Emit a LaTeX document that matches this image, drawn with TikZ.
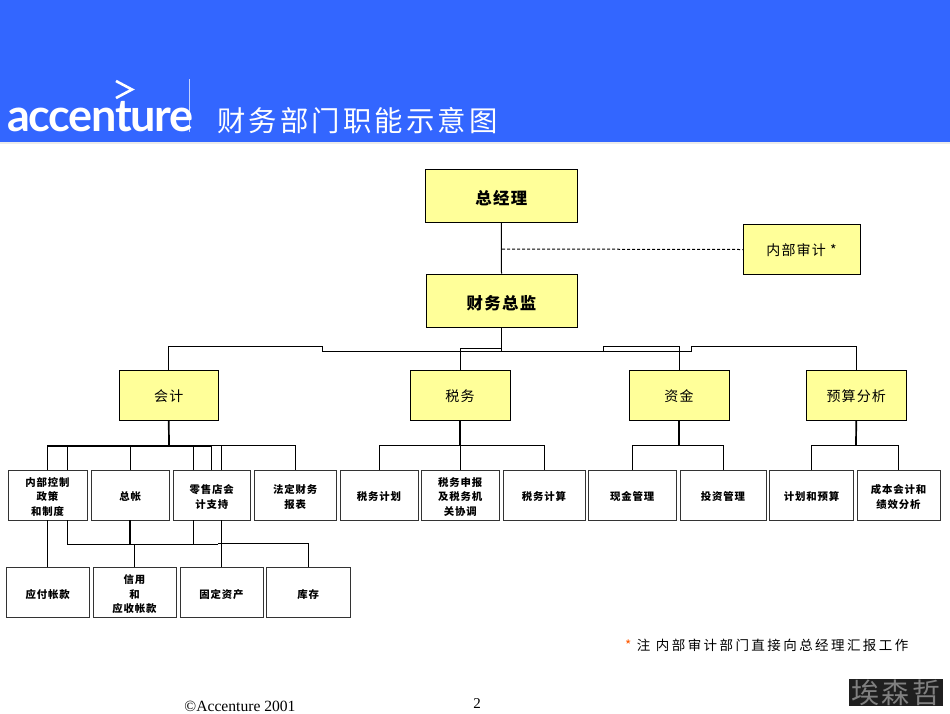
\documentclass[tikz,border=0pt]{standalone}
\usepackage{fontspec}
\setmainfont{Liberation Serif}
\newfontfamily\cjk{Noto Sans CJK SC}[LetterSpace=8]
\newfontfamily\cjktitle{Noto Sans CJK SC}[LetterSpace=11]
\newfontfamily\cjknote{Noto Sans CJK SC}[LetterSpace=18]
\newfontfamily\logofont{Lato}
\definecolor{hdr}{HTML}{3366FF}
\definecolor{boxy}{HTML}{FFFF99}
\tikzset{
  x=1pt,y=-1pt,
  box/.style={draw=black,line width=0.9pt,inner sep=0pt,align=center,font=\cjk},
  topbox/.style={box,fill=boxy,font=\cjk\fontsize{16.4}{18}\selectfont\bfseries,execute at begin node=\def\rz{-8.5pt}},
  midbox/.style={box,fill=boxy,font=\cjk\fontsize{14}{16}\selectfont,execute at begin node=\def\rz{-6.5pt}},
  leaf/.style={box,fill=white,draw=black!80,line width=1pt,minimum height=50pt,font=\cjk\fontsize{10.4}{14.5}\selectfont\bfseries,execute at begin node=\def\rz{-5.5pt}},
  link/.style={draw=black,line width=1pt,line join=miter},
  heavy/.style={draw=black,line width=1.7pt},
}
\newcommand{\bx}[7]{\node[#1,minimum width=#5pt-#4pt,minimum height=#7pt-#6pt] (#2) at ({(#4+#5)/2},{(#6+#7)/2}) {\raisebox{\rz}[0pt][0pt]{\begin{tabular}{@{}c@{}}#3\end{tabular}}};}
\begin{document}
\begin{tikzpicture}
\useasboundingbox (0,0) rectangle (950,713);
\fill[hdr] (0,0) rectangle (950,142);
\fill[black!8] (0,142) rectangle (950,143.5);
% logo
\draw[white!70!hdr,line width=0.5pt] (189.5,79) -- (189.5,132);
\draw[white,line width=2.6pt,line join=miter] (116,81) -- (132,89.5) -- (116,98);
\node[text=white,inner sep=0pt,anchor=base west,font=\logofont\fontsize{45}{45}\selectfont\bfseries] (logo) at (7,131) {\addfontfeature{LetterSpace=-3}accenture};
\node[text=white,inner sep=0pt,anchor=west,font=\cjktitle\fontsize{28.4}{30}\selectfont] (title) at (217,121) {财务部门职能示意图};
% boxes
\bx{topbox}{gm}{总经理}{425.5}{577}{169}{222.5}
\bx{topbox}{cfo}{财务总监}{426}{577}{274}{327}
\bx{midbox}{audit}{内部审计 *}{743}{860}{224.5}{274.5}
\bx{midbox}{acc}{会计}{119}{218.5}{370.5}{420}
\bx{midbox}{tax}{税务}{410}{510}{370.5}{420}
\bx{midbox}{fund}{资金}{629}{729}{370.5}{420}
\bx{midbox}{bud}{预算分析}{806.5}{906}{370.5}{420}
\bx{leaf}{l1}{内部控制\\政策\\和制度}{8}{87}{470}{520}
\bx{leaf}{l2}{总帐}{91.5}{169}{470}{520}
\bx{leaf}{l3}{零售店会\\计支持}{173}{250.5}{470}{520}
\bx{leaf}{l4}{法定财务\\报表}{254.5}{336}{470}{520}
\bx{leaf}{t1}{税务计划}{340}{418}{470}{520}
\bx{leaf}{t2}{税务申报\\及税务机\\关协调}{421.5}{499}{470}{520}
\bx{leaf}{t3}{税务计算}{503}{585}{470}{520}
\bx{leaf}{f1}{现金管理}{588.5}{676}{470}{520}
\bx{leaf}{f2}{投资管理}{680}{766}{470}{520}
\bx{leaf}{b1}{计划和预算}{769.5}{853.5}{470}{520}
\bx{leaf}{b2}{成本会计和\\绩效分析}{857}{940}{470}{520}
\bx{leaf}{r1}{应付帐款}{6}{89.5}{567}{617.5}
\bx{leaf}{r2}{信用\\和\\应收帐款}{93}{176}{567}{617.5}
\bx{leaf}{r3}{固定资产}{180}{263}{567}{617.5}
\bx{leaf}{r4}{库存}{266.5}{350}{567}{617.5}
% junctions
\coordinate (top) at (501.5,351);
\coordinate (ja) at (169,445);
\coordinate (jb) at (130,544);
% top connectors
\draw[link] (gm.south) -- (cfo.north);
\draw[link,dash pattern=on 3pt off 2pt] (502,249) -- (audit.west);
\draw[heavy] (cfo.south) -- (top);
\draw[link] (top) -- (322.5,351) -- (322.5,346) -| (acc.north);
\draw[link] (501.5,348.5) -| (tax.north);
\draw[link] (top) -- (603,351) -- (603,346) -| (fund.north);
\draw[link] (top) -- (691,351) -- (691,346) -| (bud.north);
% accounting
\draw[heavy] (acc.south) -- (ja);
\draw[link] (ja) -| (47.5,470);
\draw[line width=1.9pt] (47.5,445.8) -- (212,445.8);
\draw[link] (67.5,445) -- (67.5,470);
\draw[link] (130,470) -- (130,445);
\draw[link] (193,470) -- (193,445);
\draw[link] (211,470) -- (211,445);
\draw[link] (221,470) -- (221,445);
\draw[link] (ja) -| (l4.north);
\draw[link] (47.5,520) -- (47.5,567);
\draw[link] (67.5,520) -- (67.5,544) -- (218,544);
\draw[heavy] (130,520) -- (jb);
\draw[link] (193,520) -- (193,544);
\draw[link] (221,520) -- (221,567);
\draw[link] (134.5,544) -- (134.5,567);
\draw[link] (218,544) -- (218,543) -| (r4.north);
% tax
\draw[heavy] (tax.south) -- (460,445);
\draw[link] (460,445) -- (460,470);
\draw[link] (379,470) |- (544,445) -- (544,470);
% fund
\draw[heavy] (fund.south) -- (679,445);
\draw[link] (632,470) |- (723,445) -- (723,470);
% budget
\draw[heavy] (bud.south) -- (856,445);
\draw[link] (811,470) |- (898.5,445) -- (898.5,470);
% note
\node[inner sep=0pt,anchor=west,font=\cjknote\fontsize{13.5}{15}\selectfont] (note) at (625,645.5) {\textcolor{orange!70!red}{*} 注 内部审计部门直接向总经理汇报工作};
% footer
\node[inner sep=0pt,font=\fontsize{15.6}{17}\selectfont] (copy) at (240,706) {©Accenture 2001};
\node[inner sep=0pt,font=\fontsize{15}{17}\selectfont] (page) at (477,704) {2};
\fill[black!88] (849,679) rectangle (943,706);
\node[text=black!50,inner sep=0pt,font=\cjk\fontsize{28}{30}\selectfont] (stamp) at (896,692.5) {埃森哲};
\end{tikzpicture}
\end{document}
